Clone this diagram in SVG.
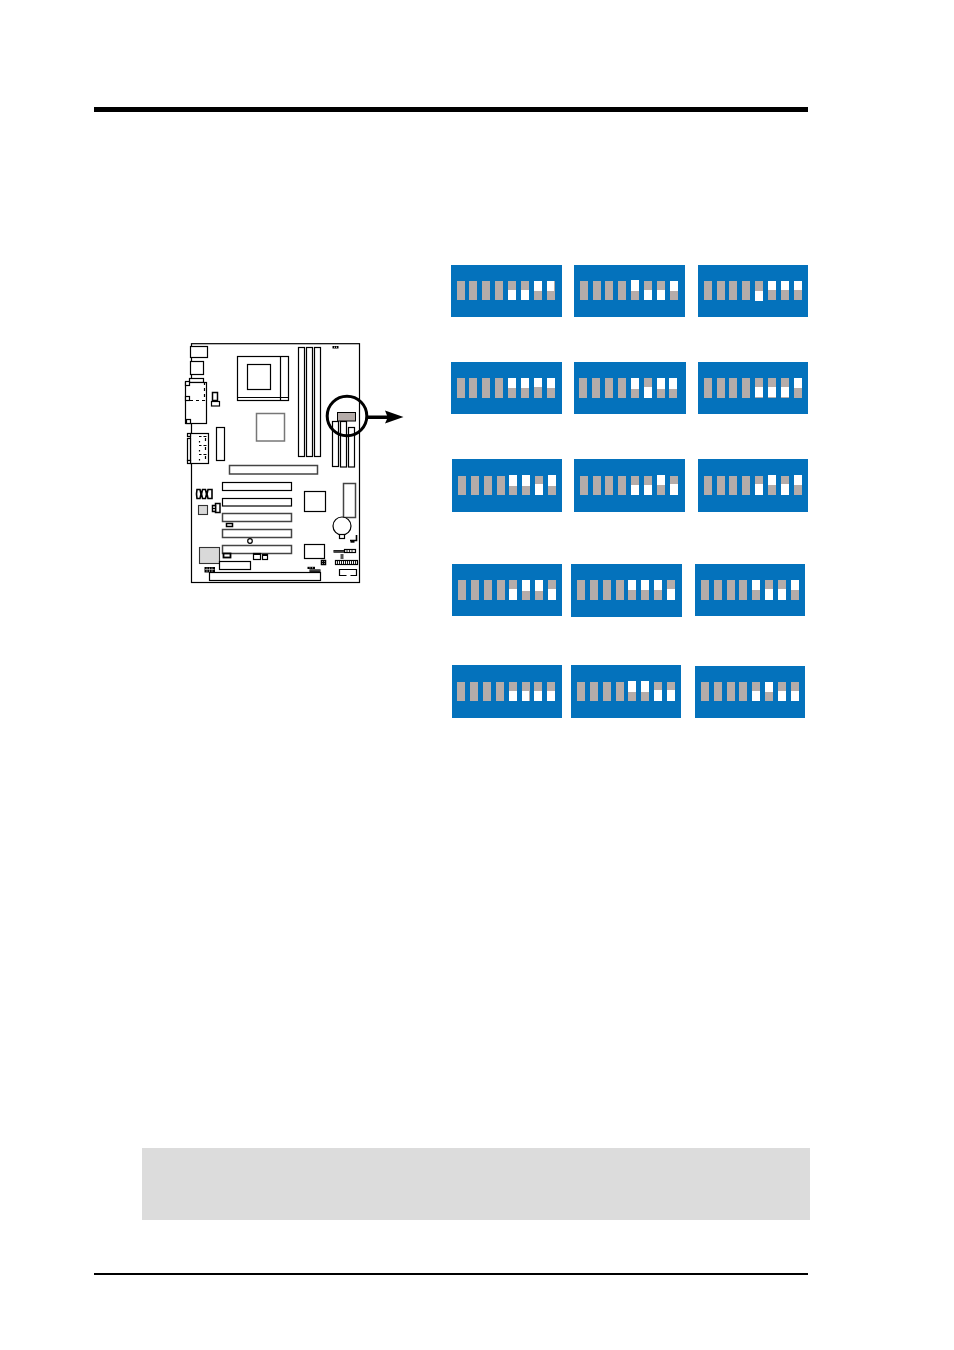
<svg xmlns="http://www.w3.org/2000/svg" width="954" height="1350" viewBox="0 0 954 1350">
<style>
.b{fill:#0472bc}.g{fill:#b5aca9}.w{fill:#fff}
.k{fill:#fff;stroke:#000;stroke-width:1.200}
.t{fill:#fff;stroke:#000;stroke-width:1.500}
.h{fill:#fff;stroke:#444;stroke-width:1.500}
.n{fill:none;stroke:#000;stroke-width:1.200}
.f{fill:#d9d9d9;stroke:#333;stroke-width:1.100}
.d{fill:none;stroke:#000;stroke-width:1.200;stroke-dasharray:3 3}
</style>
<rect width="954" height="1350" fill="#fff"/>
<g id="page">
<rect x="94" y="107" width="714" height="5" fill="#000"/>
<rect x="94" y="1273" width="714" height="2" fill="#000"/>
<rect x="142" y="1148" width="668" height="72" fill="#dcdcdc"/>
</g>
<g id="board">
<rect class="k" x="191.500" y="343.700" width="168" height="238.800"/>
<rect class="k" x="190.500" y="346.500" width="17" height="11"/>
<rect class="k" x="190.500" y="361.500" width="13" height="13"/>
<rect class="k" x="189.500" y="378.500" width="14" height="4"/>
<rect class="k" x="185.500" y="382.500" width="21" height="41"/>
<rect class="k" x="185.500" y="381.500" width="4" height="4"/>
<rect class="k" x="185.500" y="396.500" width="4" height="4"/>
<rect class="k" x="186.500" y="419.500" width="4" height="4"/>
<path class="d" d="M190 400.500H204.500V382"/>
<rect class="k" x="237.500" y="356.500" width="51" height="44"/>
<rect class="k" x="247.500" y="364.500" width="23" height="25"/>
<path class="n" d="M280.500 356.500V400.500M237.500 397.500H288.500"/>
<rect class="k" x="298.500" y="347.500" width="6" height="109"/>
<rect class="k" x="306.500" y="347.500" width="6" height="109"/>
<rect class="k" x="314.500" y="347.500" width="6" height="109"/>
<rect x="332.500" y="346" width="6" height="2.500" fill="#000"/>
<path d="M334.500 346.500v1.500M336.500 346.500v1.500" stroke="#fff" stroke-width=".7"/>
<rect x="256.500" y="413.500" width="28" height="27.500" fill="#fff" stroke="#777" stroke-width="1.500"/>
<rect class="t" x="212.500" y="392.500" width="5" height="8"/>
<rect class="k" x="211.500" y="401.500" width="8" height="4.500"/>
<rect class="k" x="216.500" y="427.500" width="8" height="33"/>
<rect class="k" x="190.500" y="433.500" width="18" height="30"/>
<rect class="k" x="187.500" y="438.500" width="3" height="22"/>
<rect class="k" x="187.500" y="433.500" width="3" height="3"/>
<rect class="k" x="187.500" y="460.500" width="3" height="3"/>
<path d="M199 436.500h2.500M203.500 436.500h3M205.500 438v3M199 445.500h2.500M203.500 445.500h3M205.500 447v3M199 454.500h2.500M203.500 454.500h3M205.500 456v3M199.500 441v1.500M199.500 450v1.500M199.500 459v1.500" fill="none" stroke="#000" stroke-width="1.200"/>
<rect class="k" x="332.500" y="421.500" width="6" height="45"/>
<rect class="k" x="340.500" y="421.500" width="6" height="45.500"/>
<rect class="k" x="348.500" y="427.500" width="6" height="39.500"/>
<rect class="g" x="337.500" y="412.500" width="18" height="8.500" stroke="#000" stroke-width="1"/>
<rect class="h" x="229.500" y="465.500" width="88" height="8.500"/>
<rect class="k" x="222.500" y="482.500" width="69" height="8"/>
<rect class="k" x="222.500" y="498.500" width="69" height="7.500"/>
<rect class="h" x="222.500" y="513.500" width="69" height="8"/>
<rect class="h" x="222.500" y="529.500" width="69" height="8"/>
<rect class="h" x="222.500" y="545.500" width="69" height="8"/>
<rect class="k" x="304.500" y="491.500" width="21" height="20"/>
<rect class="h" x="343.500" y="483.500" width="12" height="34"/>
<circle class="k" cx="342" cy="526" r="9"/>
<rect class="k" x="339.500" y="534.500" width="5" height="4"/>
<path d="M197 489.500h3l1 4.500l-1 4.500h-3l-.5-4.500zM202.500 489.500h3l1 4.500l-1 4.500h-3l-1-4.500zM208 489.500h4v9h-4l-1-4.500z" fill="#fff" stroke="#000" stroke-width="1.600"/>
<rect class="f" x="198.500" y="505.500" width="9" height="9"/>
<rect class="t" x="215.500" y="503.500" width="4.500" height="9"/>
<rect class="t" x="212.500" y="505.500" width="3" height="6"/>
<path d="M212 508.500h3" stroke="#000" stroke-width="1"/>
<rect class="t" x="226.500" y="523.500" width="6" height="3"/>
<circle class="k" cx="250" cy="541" r="2.300"/>
<rect class="f" x="199.500" y="547.500" width="20" height="16"/>
<rect class="k" x="219.500" y="561.500" width="31" height="8"/>
<rect x="223.500" y="553.500" width="7" height="4" fill="#fff" stroke="#000" stroke-width="1.800"/>
<rect class="k" x="253.500" y="553.500" width="7" height="6"/>
<rect class="k" x="262.500" y="554.500" width="5" height="5"/>
<path d="M253.500 554.500h7M262.500 555.500h5" stroke="#000" stroke-width="1"/>
<rect class="k" x="304.500" y="544.500" width="20" height="14"/>
<rect class="t" x="321.500" y="560.500" width="4" height="4"/>
<path class="n" d="M323.500 560V565M321 562.500H326"/>
<rect class="k" x="209.500" y="572.500" width="111" height="8"/>
<path d="M204.500 567h10.500v5.500h-10.500z" fill="#000"/>
<path d="M207 567.500v4.500M209.500 567.500v4.500M212 567.500v4.500M205 569.500h9.500" stroke="#fff" stroke-width=".5"/>
<rect x="307.500" y="566.800" width="7.500" height="2.200" fill="#000"/>
<rect x="309.500" y="569.300" width="11" height="2.700" fill="#000"/>
<path d="M311 569.500v2M313 569.500v2M315 569.500v2M317 569.500v2M319 569.500v2M310 567v1.500M312.500 567v1.500" stroke="#fff" stroke-width=".5"/>
<path d="M350 540.500H356.500V535" fill="none" stroke="#000" stroke-width="1.600"/>
<rect x="350.500" y="540" width="4" height="2.700" fill="#000"/>
<rect x="333.500" y="550" width="10.500" height="2.700" fill="#000"/>
<rect class="k" x="344.500" y="549.500" width="11" height="3"/>
<path d="M347 549v4M349.500 549v4M352 549v4" stroke="#000" stroke-width=".8"/>
<path d="M335 550.500v1.500M337 550.500v1.500M339 550.500v1.500M341 550.500v1.500M343 550.500v1.500" stroke="#fff" stroke-width=".5"/>
<rect x="340.500" y="554" width="3" height="5" fill="#555"/>
<rect class="k" x="335.500" y="560.500" width="22" height="4"/>
<path d="M337.500 560v5M339.500 560v5M341.500 560v5M343.500 560v5M345.500 560v5M347.500 560v5M349.500 560v5M351.500 560v5M353.500 560v5M355.500 560v5" stroke="#000" stroke-width=".9"/>
<path class="n" d="M346.500 575.500H339.500V569.500H356.500V575.500H350.500"/>
</g>
<g id="connectors">
<circle cx="347" cy="416" r="19.800" fill="none" stroke="#000" stroke-width="3"/>
<path d="M367 415.500H387L385 410.500L403.500 417L385 423.500L387 419H367Z" fill="#000"/>
</g>
<g id="dip-row-1">
<g id="sw-1-1"><rect class="b" x="451" y="265" width="111" height="52"/><path class="g" d="M457 281h8v19h-8zM469 281h8v19h-8zM482 281h8v19h-8zM495 281h8v19h-8zM508 281h8v19h-8zM521 281h8v19h-8zM534 281h8v19h-8zM547 281h8v19h-8z"/><path class="w" d="M508 290h8v10h-8zM521 290h8v10h-8zM534 281h8v10h-8zM547 281h7v10h-7z"/></g>
<g id="sw-1-2"><rect class="b" x="574" y="265" width="111" height="52"/><path class="g" d="M580 281h8v19h-8zM593 281h8v19h-8zM605 281h8v19h-8zM618 281h8v19h-8zM631 281h8v19h-8zM644 281h8v19h-8zM657 281h8v19h-8zM670 281h8v19h-8z"/><path class="w" d="M631 280h8v11h-8zM644 290h8v10h-8zM657 290h8v10h-8zM670 281h8v10h-8z"/></g>
<g id="sw-1-3"><rect class="b" x="698" y="265" width="110" height="52"/><path class="g" d="M704 281h8v19h-8zM717 281h8v19h-8zM729 281h8v19h-8zM742 281h8v19h-8zM755 281h8v19h-8zM768 281h8v19h-8zM781 281h8v19h-8zM794 281h8v19h-8z"/><path class="w" d="M755 291h8v10h-8zM768 281h8v9h-8zM781 281h8v9h-8zM794 281h8v9h-8z"/></g>
</g>
<g id="dip-row-2">
<g id="sw-2-1"><rect class="b" x="451" y="362" width="111" height="52"/><path class="g" d="M457 378h8v20h-8zM469 378h8v20h-8zM482 378h8v20h-8zM495 378h8v20h-8zM508 378h8v20h-8zM521 378h8v20h-8zM534 378h8v20h-8zM547 378h8v20h-8z"/><path class="w" d="M508 378h8v10h-8zM521 378h8v10h-8zM534 378h8v9h-8zM547 378h8v10h-8z"/></g>
<g id="sw-2-2"><rect class="b" x="574" y="362" width="112" height="52"/><path class="g" d="M579 378h8v20h-8zM592 378h8v20h-8zM605 378h8v20h-8zM618 378h8v20h-8zM631 378h8v20h-8zM644 378h8v20h-8zM657 378h8v20h-8zM669 378h8v20h-8z"/><path class="w" d="M631 378h8v11h-8zM644 387h8v11h-8zM657 378h8v11h-8zM669 378h8v11h-8z"/></g>
<g id="sw-2-3"><rect class="b" x="698" y="362" width="110" height="52"/><path class="g" d="M704 378h8v20h-8zM717 378h8v20h-8zM729 378h8v20h-8zM742 378h8v20h-8zM755 378h8v20h-8zM768 378h8v20h-8zM781 378h8v20h-8zM794 378h8v20h-8z"/><path class="w" d="M755 387h8v10h-8zM768 387h8v10h-8zM781 387h8v10h-8zM794 378h8v10h-8z"/></g>
</g>
<g id="dip-row-3">
<g id="sw-3-1"><rect class="b" x="452" y="459" width="110" height="53"/><path class="g" d="M458 476h8v19h-8zM471 476h8v19h-8zM484 476h8v19h-8zM497 476h8v19h-8zM509 476h8v19h-8zM522 476h8v19h-8zM535 476h8v19h-8zM548 476h8v19h-8z"/><path class="w" d="M509 475h8v11h-8zM522 475h8v11h-8zM535 484h8v11h-8zM548 475h8v11h-8z"/></g>
<g id="sw-3-2"><rect class="b" x="574" y="459" width="111" height="53"/><path class="g" d="M580 476h8v19h-8zM593 476h8v19h-8zM605 476h8v19h-8zM618 476h8v19h-8zM631 476h8v19h-8zM644 476h8v19h-8zM657 476h8v19h-8zM670 476h8v19h-8z"/><path class="w" d="M631 485h8v10h-8zM644 485h8v10h-8zM657 475h8v10h-8zM670 484h8v11h-8z"/></g>
<g id="sw-3-3"><rect class="b" x="698" y="459" width="110" height="53"/><path class="g" d="M704 476h8v19h-8zM717 476h8v19h-8zM729 476h8v19h-8zM742 476h8v19h-8zM755 476h8v19h-8zM768 476h8v19h-8zM781 476h8v19h-8zM794 476h8v19h-8z"/><path class="w" d="M755 484h8v11h-8zM768 475h8v10h-8zM781 484h8v11h-8zM794 475h8v10h-8z"/></g>
</g>
<g id="dip-row-4">
<g id="sw-4-1"><rect class="b" x="452" y="564" width="110" height="52"/><path class="g" d="M458 580h8v20h-8zM471 580h8v20h-8zM484 580h8v20h-8zM497 580h8v20h-8zM509 580h8v20h-8zM522 580h8v20h-8zM535 580h8v20h-8zM548 580h8v20h-8z"/><path class="w" d="M509 589h8v11h-8zM522 580h8v11h-8zM535 580h8v11h-8zM548 589h8v11h-8z"/></g>
<g id="sw-4-2"><rect class="b" x="571" y="564" width="111" height="53"/><path class="g" d="M577 580h8v20h-8zM590 580h8v20h-8zM603 580h8v20h-8zM616 580h8v20h-8zM628 580h8v20h-8zM641 580h8v20h-8zM654 580h8v20h-8zM667 580h8v20h-8z"/><path class="w" d="M628 580h8v10h-8zM641 580h8v10h-8zM654 580h8v10h-8zM667 589h8v11h-8z"/></g>
<g id="sw-4-3"><rect class="b" x="695" y="564" width="110" height="52"/><path class="g" d="M701 580h8v20h-8zM714 580h8v20h-8zM727 580h8v20h-8zM739 580h8v20h-8zM752 580h8v20h-8zM765 580h8v20h-8zM778 580h8v20h-8zM791 580h8v20h-8z"/><path class="w" d="M752 580h8v10h-8zM765 589h8v11h-8zM778 589h8v11h-8zM791 580h8v10h-8z"/></g>
</g>
<g id="dip-row-5">
<g id="sw-5-1"><rect class="b" x="452" y="665" width="110" height="53"/><path class="g" d="M457 682h8v19h-8zM470 682h8v19h-8zM483 682h8v19h-8zM496 682h8v19h-8zM509 682h8v19h-8zM522 682h8v19h-8zM534 682h8v19h-8zM547 682h8v19h-8z"/><path class="w" d="M509 691h8v10h-8zM522 691h7v10h-7zM534 691h8v10h-8zM547 691h8v10h-8z"/></g>
<g id="sw-5-2"><rect class="b" x="571" y="665" width="110" height="53"/><path class="g" d="M577 682h8v19h-8zM590 682h8v19h-8zM603 682h8v19h-8zM616 682h8v19h-8zM628 682h8v19h-8zM641 682h8v19h-8zM654 682h8v19h-8zM667 682h8v19h-8z"/><path class="w" d="M628 681h8v11h-8zM641 681h8v11h-8zM654 690h8v11h-8zM667 690h8v11h-8z"/></g>
<g id="sw-5-3"><rect class="b" x="695" y="666" width="110" height="52"/><path class="g" d="M701 682h8v19h-8zM714 682h8v19h-8zM727 682h8v19h-8zM739 682h8v19h-8zM752 682h8v19h-8zM765 682h8v19h-8zM778 682h8v19h-8zM791 682h8v19h-8z"/><path class="w" d="M752 691h8v10h-8zM765 682h8v10h-8zM778 691h8v10h-8zM791 691h8v10h-8z"/></g>
</g>
</svg>
